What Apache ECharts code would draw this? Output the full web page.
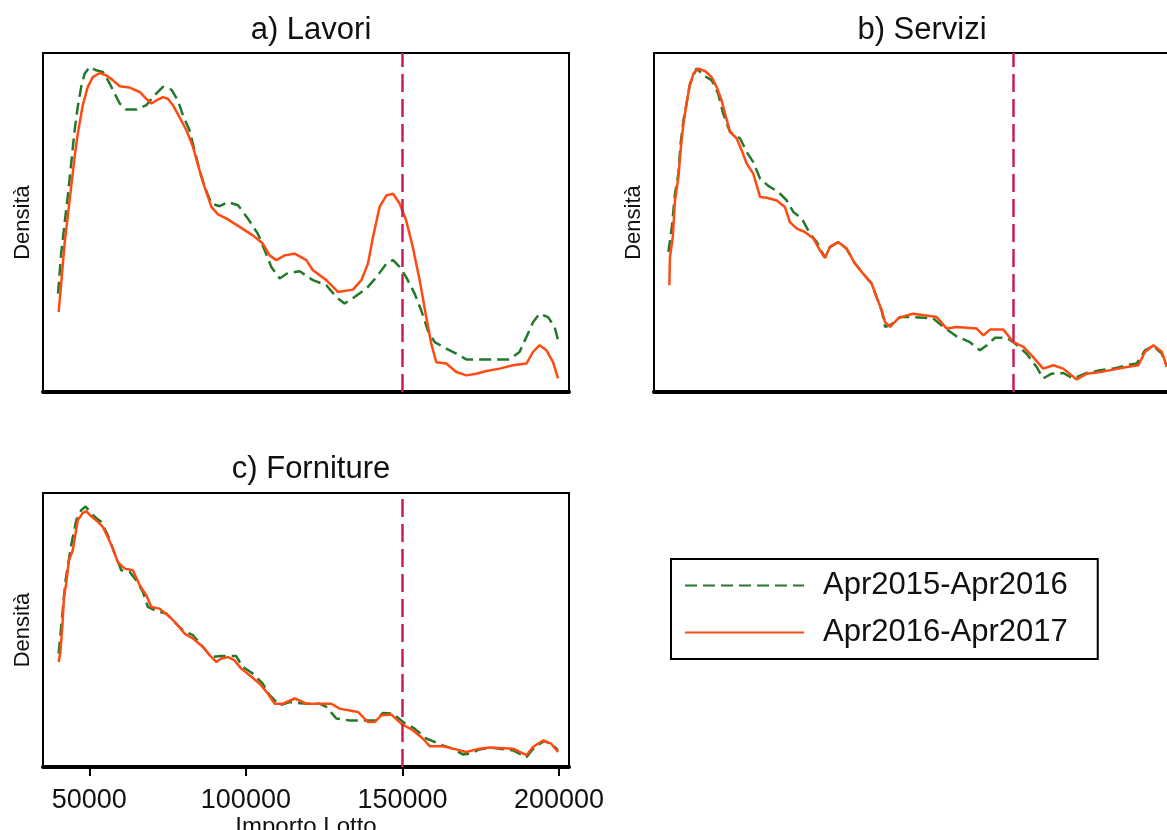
<!DOCTYPE html>
<html>
<head>
<meta charset="utf-8">
<title>Densità Importo Lotto</title>
<script src="https://cdn.jsdelivr.net/npm/echarts@6/dist/echarts.min.js"></script>
<style>
  html, body { margin: 0; padding: 0; background: #fff; }
  #chart { width: 1167px; height: 830px; }
</style>
</head>
<body>
<div id="chart"></div>
<script>
// periodi confrontati
var periodi = ['Apr2015-Apr2016', 'Apr2016-Apr2017']
var pannelli = ['a) Lavori', 'b) Servizi', 'c) Forniture']
var soglia = 150000
var tickImporto = [50000, 100000, 150000, 200000]

// densità (scala relativa 0-100) per importo lotto
var lavori1516 = [[40000,29.0],[41000,40.8],[42100,49.7],[43200,58.5],[44200,67.4],[45300,77.2],[46300,84.1],[47400,90.0],[48500,93.9],[50100,95.9],[52200,94.9],[54300,94.4],[56500,91.0],[58100,88.0],[59700,85.1],[61800,83.3],[65000,83.3],[68200,84.6],[70800,87.5],[73500,90.0],[76200,89.2],[78300,86.0],[79900,81.6],[82000,77.2],[83600,71.3],[85200,65.4],[86800,60.5],[89000,55.6],[91600,54.8],[94300,56.0],[97500,55.1],[100600,51.2],[103800,46.7],[106000,41.8],[108100,36.9],[110800,33.5],[113400,35.1],[117200,35.6],[121400,33.0],[125700,31.5],[128900,28.0],[131500,26.1],[134700,28.0],[138500,30.5],[141700,33.9],[144900,37.9],[147000,38.9],[149100,36.9],[151200,33.9],[153900,29.0],[156000,24.1],[158100,18.2],[160300,14.7],[164000,12.8],[167200,11.3],[170400,9.6],[176800,9.6],[184200,9.6],[187400,11.8],[189600,16.2],[191700,20.6],[193800,23.1],[196500,22.1],[198600,19.2],[199700,15.3]]
var lavori1617 = [[40200,23.6],[41000,32.0],[42100,43.8],[43700,56.5],[45300,69.3],[46300,76.2],[47900,84.6],[49500,90.0],[51100,92.9],[53300,94.1],[55400,93.4],[57500,92.0],[59700,90.2],[62900,89.8],[66100,88.5],[68200,86.5],[69800,85.1],[71400,86.0],[73500,87.0],[75100,86.5],[76700,84.6],[78800,81.1],[81000,77.2],[83100,72.3],[85200,65.4],[86800,60.5],[89000,54.6],[91100,52.4],[93700,51.2],[98000,48.7],[102200,46.2],[105400,43.8],[107600,40.3],[109700,38.9],[112400,40.3],[115600,40.8],[119300,38.9],[121400,35.9],[125700,33.0],[129400,29.5],[134200,30.2],[136900,33.0],[139000,37.9],[140600,45.7],[142700,54.6],[144900,58.0],[147000,58.5],[149100,55.6],[151200,50.6],[153300,42.8],[155500,33.0],[157600,22.1],[159200,14.3],[160800,8.8],[164000,8.4],[167200,5.9],[170400,4.9],[173600,5.4],[176800,6.2],[181000,6.9],[185300,7.9],[189600,8.4],[191700,11.8],[193800,13.8],[196000,12.3],[198100,8.8],[199700,4.0]]

var servizi1516 = [[39800,41.3],[40900,48.7],[41900,58.5],[43000,64.4],[43700,73.3],[44600,80.1],[45600,85.1],[46700,91.0],[48800,95.4],[51500,93.1],[53600,92.0],[55700,88.0],[57300,82.1],[59500,76.7],[62700,74.8],[64800,70.8],[66900,67.8],[69100,62.9],[71700,60.8],[74900,59.0],[77600,56.5],[79700,53.1],[82400,51.2],[85000,46.7],[87200,44.2],[89800,39.6],[91400,42.8],[94100,44.2],[96700,42.3],[99400,37.9],[102000,34.9],[104700,32.0],[106300,28.0],[107900,24.1],[109000,19.2],[110600,19.7],[113800,22.1],[118000,22.1],[124400,21.7],[127600,19.2],[131900,16.4],[136100,14.7],[139300,12.3],[141500,13.8],[144100,16.0],[147900,16.0],[150500,14.3],[154200,11.3],[157400,7.4],[159500,4.0],[162200,5.4],[165900,5.6],[169100,4.0],[173400,5.6],[177700,6.4],[181900,6.9],[186200,7.9],[189400,8.4],[192000,12.3],[194700,13.6],[197400,11.3],[199000,7.4]]
var servizi1617 = [[40100,31.5],[40300,39.8],[41200,45.7],[41900,56.5],[43000,63.4],[43700,71.3],[44600,79.2],[45600,85.1],[46500,90.0],[47800,93.9],[49300,95.4],[51500,94.7],[53600,92.9],[55200,90.0],[56800,86.0],[58200,81.1],[59500,76.7],[61600,74.8],[63200,71.3],[64800,67.4],[66900,64.4],[69100,57.5],[71200,57.3],[74400,56.5],[77000,54.6],[78600,50.1],[80800,48.2],[83400,47.2],[86100,45.3],[88200,41.8],[89800,39.6],[91400,42.8],[94100,44.2],[96700,42.3],[99400,37.9],[102000,34.9],[104700,32.0],[106300,28.0],[107900,24.1],[109000,20.6],[110600,19.2],[113200,21.7],[115900,22.6],[118000,23.1],[125500,22.1],[128700,18.7],[131900,19.2],[138300,18.7],[140400,16.7],[142500,18.4],[146800,18.4],[150000,14.7],[153200,13.3],[156300,10.3],[159500,6.9],[162700,7.9],[165900,6.9],[170200,3.7],[173400,5.4],[177700,5.9],[181900,6.6],[186200,7.4],[189900,7.9],[192000,11.8],[194700,13.8],[197400,11.8],[199000,7.4]]

var forniture1516 = [[40200,41.4],[42400,68.1],[44200,80.9],[45800,90.0],[47400,93.7],[48800,95.1],[51100,91.9],[53800,89.4],[55900,84.6],[58100,77.9],[60200,71.8],[62900,71.2],[65000,68.1],[67100,63.9],[68700,58.4],[71400,56.9],[74600,56.0],[77200,52.9],[79900,49.9],[83100,48.1],[86300,43.8],[89000,40.1],[92100,40.5],[96900,40.5],[99000,36.5],[102200,34.1],[105400,30.4],[107600,26.2],[110800,22.5],[114000,23.7],[119300,23.1],[123500,23.1],[125700,21.9],[128900,17.7],[133100,17.0],[137900,17.0],[141100,17.0],[143800,19.7],[147000,19.5],[150200,16.4],[153900,14.0],[157600,10.4],[162900,7.9],[166100,6.7],[169300,4.6],[171500,4.9],[174600,6.4],[177800,7.1],[185300,6.1],[189600,3.6],[192200,7.3],[195400,9.5],[198100,7.9],[199700,6.1]]
var forniture1617 = [[40200,38.3],[40700,41.4],[41400,51.7],[41900,62.0],[42600,66.9],[43500,75.4],[44700,79.1],[45600,85.2],[46300,90.0],[47900,92.7],[49000,93.4],[50600,91.5],[52200,90.0],[54300,87.6],[55900,83.9],[57500,79.7],[59100,74.8],[61300,72.4],[63900,71.8],[66100,66.3],[68200,62.7],[69800,58.4],[72400,57.8],[75100,55.4],[77800,52.3],[80400,48.7],[83100,46.9],[86300,43.8],[88400,40.8],[90600,38.3],[92100,39.6],[94300,40.1],[96400,38.9],[98500,35.9],[101200,33.5],[104400,30.4],[107000,26.8],[109200,23.1],[111800,23.1],[115600,25.0],[119300,23.1],[122500,23.1],[127300,23.1],[129900,21.3],[135800,20.1],[139000,16.4],[141100,16.4],[143300,18.9],[146400,19.2],[149600,15.8],[153300,13.4],[156500,10.4],[158700,7.6],[162900,7.6],[166100,6.7],[170400,5.5],[174600,6.7],[177800,7.1],[185300,6.7],[189600,4.3],[191700,7.3],[194900,9.7],[197500,8.5],[199700,5.5]]

var datiPannelli = [
  [lavori1516, lavori1617],
  [servizi1516, servizi1617],
  [forniture1516, forniture1617]
]

var font = 'Liberation Sans, Arial, sans-serif'
var verde = '#23782a'
var arancio = '#ff4a12'
var rosso = '#c81f5c'

var grids = [
  { left: 43, top: 53, width: 526, height: 339 },
  { left: 654, top: 53, width: 526, height: 339 },
  { left: 43, top: 493, width: 526, height: 274 }
]
var titlePos = [[306, 10], [917, 10], [306, 449]]

var chart = echarts.init(document.getElementById('chart'))

var option = {
  animation: false,
  backgroundColor: '#fff',
  textStyle: { fontFamily: font, color: '#000' },
  title: pannelli.map(function(t, i) {
    return {
      text: t,
      left: titlePos[i][0],
      top: titlePos[i][1],
      textAlign: 'center',
      textStyle: { fontFamily: font, fontSize: 31, fontWeight: 'normal', color: '#111' }
    }
  }),
  legend: {
    orient: 'vertical',
    left: 671,
    top: 559,
    data: periodi,
    itemWidth: 119,
    itemHeight: 20,
    itemGap: 16,
    padding: [11, 30, 11, 13],
    borderColor: '#000',
    borderWidth: 2,
    // niente simbolo, solo la linea
    itemStyle: { color: 'rgba(0,0,0,0)', borderWidth: 0, opacity: 0 },
    textStyle: { fontFamily: font, fontSize: 31, color: '#111', padding: [0, 0, 0, 14] }
  },
  grid: grids.map(function(g) {
    return Object.assign({ show: true, borderColor: '#000', borderWidth: 2, outerBoundsMode: 'none' }, g)
  }),
  xAxis: grids.map(function(g, i) {
    var last = i === 2
    return {
      type: 'value',
      gridIndex: i,
      min: 35200,
      max: 203200,
      splitLine: { show: false },
      axisLine: { show: true, onZero: false, lineStyle: { color: '#000', width: 4 } },
      axisTick: { show: last, customValues: tickImporto, length: 9, lineStyle: { color: '#000', width: 2 } },
      axisLabel: {
        show: last,
        customValues: tickImporto,
        margin: 20,
        fontSize: 27,
        color: '#111',
        fontFamily: font,
        formatter: function(v) { return String(v) }
      },
      name: last ? 'Importo Lotto' : '',
      nameLocation: 'middle',
      nameGap: 38,
      nameTextStyle: { fontSize: 24, color: '#111', fontFamily: font }
    }
  }),
  yAxis: grids.map(function(g, i) {
    return {
      type: 'value',
      gridIndex: i,
      min: 0,
      max: 100,
      splitLine: { show: false },
      axisLine: { show: false },
      axisTick: { show: false },
      axisLabel: { show: false },
      name: 'Densità',
      nameLocation: 'middle',
      nameGap: 9,
      nameTextStyle: { fontSize: 22, color: '#111', fontFamily: font }
    }
  }),
  series: []
}

datiPannelli.forEach(function(coppia, i) {
  option.series.push({
    name: periodi[0],
    type: 'line',
    xAxisIndex: i,
    yAxisIndex: i,
    data: coppia[0],
    symbol: 'none',
    lineStyle: { color: verde, width: 2.5, type: [12, 6] },
    itemStyle: { color: verde }
  })
  option.series.push({
    name: periodi[1],
    type: 'line',
    xAxisIndex: i,
    yAxisIndex: i,
    data: coppia[1],
    symbol: 'none',
    lineStyle: { color: arancio, width: 2.5 },
    itemStyle: { color: arancio },
    markLine: {
      silent: true,
      symbol: ['none', 'none'],
      label: { show: false },
      lineStyle: { color: rosso, width: 2.5, type: [18, 7] },
      data: [{ xAxis: soglia }]
    }
  })
})

chart.setOption(option)
</script>
</body>
</html>
